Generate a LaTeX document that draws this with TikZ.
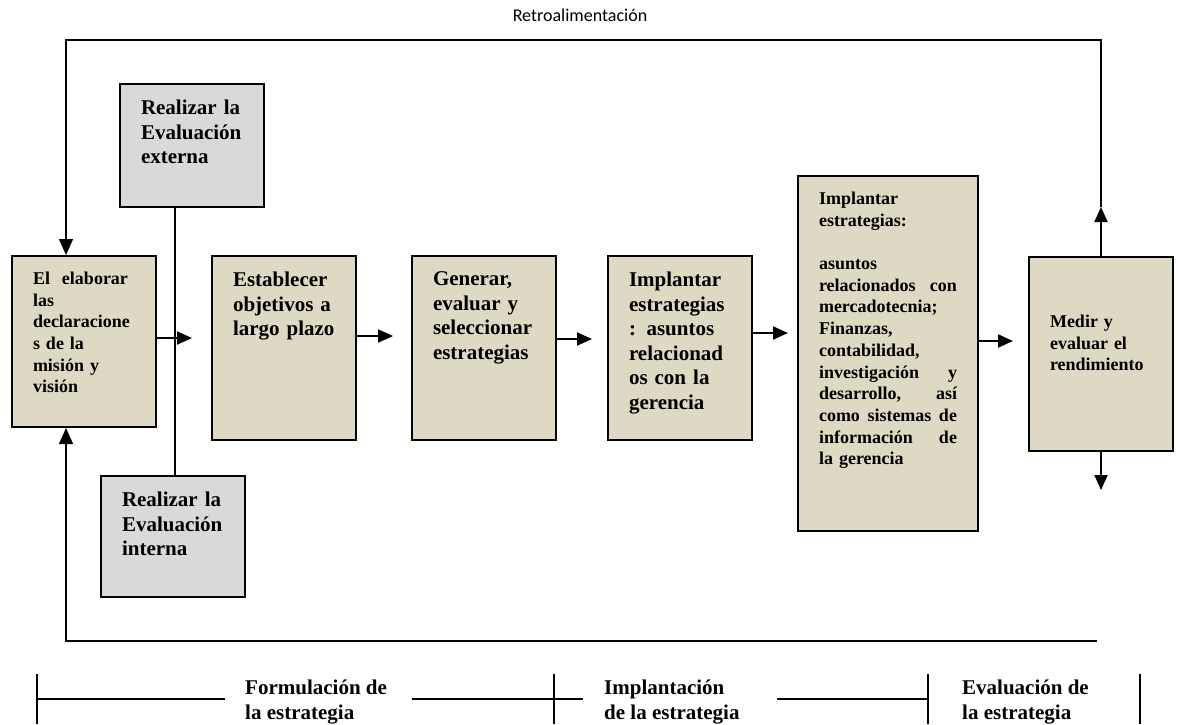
\documentclass[tikz,border=0pt]{standalone}
\usepackage{fontspec}
\setmainfont{Liberation Serif}
\newfontfamily\calibri{Carlito}
\usetikzlibrary{arrows.meta}
\setlength{\parindent}{0pt}
\definecolor{beige}{RGB}{221,217,195}
\definecolor{gris}{RGB}{217,217,217}
\newcommand{\grande}{\fontsize{21}{24.5}\selectfont}
\newcommand{\chica}{\fontsize{18}{21.7}\selectfont}
\newcommand{\texto}[3]{\parbox[c][#1][t]{\hsize}{\raggedright\vspace*{#2}#3}}
\newcommand{\justa}[1]{\leavevmode\hbox to 138pt{#1}}

\begin{document}
\begin{tikzpicture}[x=1pt, y=-1pt,
  caja/.style={draw, line width=2pt, fill=beige, anchor=north west, inner xsep=21pt, inner ysep=0pt, text width=102pt, font=\bfseries\grande},
  flecha/.style={line width=2pt, -{Triangle[length=15pt,width=13pt]}},
  retro/.style={line width=1.4pt, -{Triangle[length=16pt,width=14pt]}},
  linea/.style={line width=1.5pt},
  etapa/.style={anchor=west, align=left, inner sep=0pt, font=\bfseries\fontsize{21}{25}\selectfont}]
\useasboundingbox (0,0) rectangle (1178,724);
\path (580,15) node[font=\calibri\fontsize{18}{21}\selectfont] (titulo) {Retroalimentación};
\path (11,255) node[caja, font=\bfseries\chica] (mision) {\texto{171pt}{16pt}{El\ \ elaborar\\las\\declaracione\\s de la\\misión y\\visión}};
\path (119,83) node[caja, fill=gris] (externa) {\texto{123pt}{16pt}{Realizar la\\Evaluación\\externa}};
\path (100,475) node[caja, fill=gris] (interna) {\texto{121pt}{16pt}{Realizar la\\Evaluación\\interna}};
\path (211,255) node[caja] (objetivos) {\texto{184pt}{16pt}{Establecer\\objetivos a\\largo plazo}};
\path (411,255) node[caja] (generar) {\texto{184pt}{16pt}{Generar,\\evaluar y\\seleccionar\\estrategias}};
\path (607,255) node[caja] (gerencia) {\texto{184pt}{16pt}{Implantar\\estrategias\\: asuntos\\relacionad\\os con la\\gerencia}};
\path (797,175) node[caja, text width=138pt, font=\bfseries\chica] (areas) {\texto{355pt}{16pt}{Implantar\\estrategias:\\ \mbox{}\\asuntos\\\justa{relacionados\hfill con}\\mercadotecnia;\\Finanzas,\\contabilidad,\\\justa{investigación\hfill y}\\\justa{desarrollo,\hfill así}\\\justa{como\hfill sistemas\hfill de}\\\justa{información\hfill de}\\la gerencia}};
\path (1028,256) node[caja, font=\bfseries\chica] (medir) {\texto{194pt}{58pt}{Medir y\\evaluar el\\rendimiento}};
\coordinate (eje) at (175,0);
\coordinate (esq1) at (66,40);
\coordinate (esq2) at (66,641);
\coordinate (fin) at (1097,641);
\path (medir.north) ++(0,-49) coordinate (r1);
\path (medir.south) ++(0,38) coordinate (r2);
\draw[linea] (externa.south -| eje) -- (interna.north -| eje);
\draw[flecha, shorten >=19pt] ([yshift=3.5pt]mision.east) -- ([yshift=3.5pt]mision.east -| objetivos.west);
\draw[flecha, shorten >=18pt] ([yshift=12pt]objetivos.east) -- ([yshift=12pt]objetivos.east -| generar.west);
\draw[flecha, shorten >=15pt] ([yshift=9pt]generar.east) -- ([yshift=9pt]generar.east -| gerencia.west);
\draw[flecha, shorten >=9pt] ([yshift=15pt]gerencia.east) -- ([yshift=15pt]gerencia.east -| areas.west);
\draw[flecha, shorten >=15pt] ([yshift=12.5pt]areas.east) -- ([yshift=12.5pt]areas.east -| medir.west);
\draw[flecha] (medir.north) -- (r1);
\draw[flecha] (medir.south) -- (r2);
\draw[retro] (r1) |- (esq1) -- (esq1 |- mision.north);
\draw[retro] (fin) -- (esq2) -- (esq2 |- mision.south);
\draw[linea] (37,674) -- (37,724) (554,674) -- (554,724) (928,674) -- (928,724) (1140,674) -- (1140,724);
\draw[linea] (37,699) -- (225,699) (412,699) -- (583,699) (777,699) -- (928,699);
\path (245,702) node[etapa] (formulacion) {Formulación de\\la estrategia};
\path (604,702) node[etapa] (implantacion) {Implantación\\de la estrategia};
\path (962,702) node[etapa] (evaluacion) {Evaluación de\\la estrategia};
\end{tikzpicture}
\end{document}
